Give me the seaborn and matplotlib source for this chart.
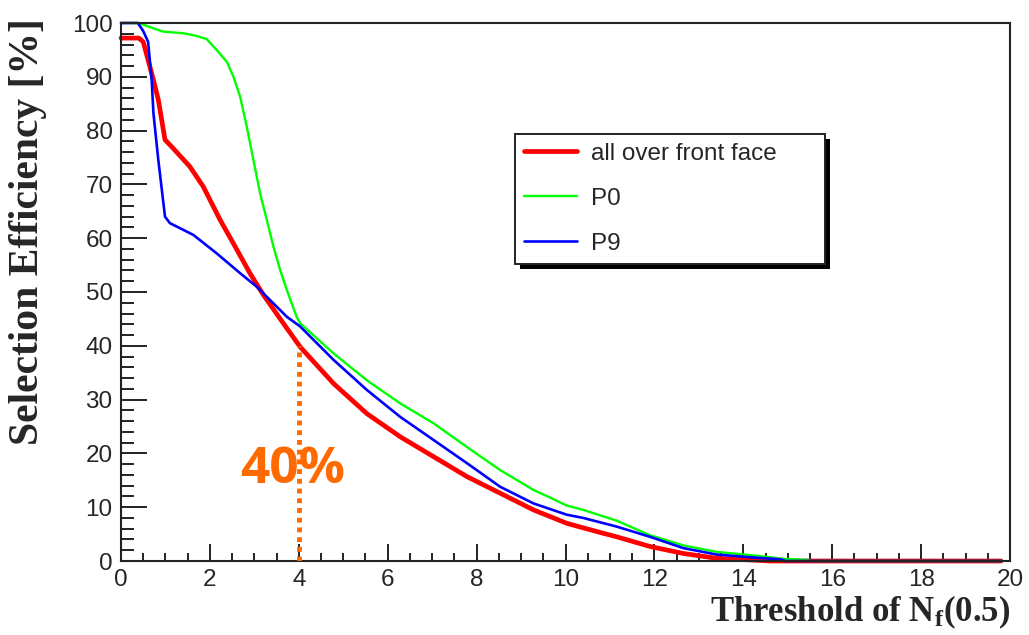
import matplotlib
matplotlib.use("Agg")
import matplotlib.pyplot as plt
import seaborn as sns
import numpy as np
import pandas as pd
from matplotlib.patches import Rectangle
from matplotlib.ticker import MultipleLocator

# ---------------- data ----------------
red_x = [0, 0.4, 0.5, 0.61, 0.73, 0.84, 0.99, 1.14, 1.55, 1.85, 2.23, 2.53, 2.9, 3.2,
         3.65, 4.03, 4.78, 5.53, 6.28, 7.03, 7.78, 8.53, 9.28, 10.03, 10.78, 11.15,
         11.9, 12.65, 13.4, 14.15, 14.6, 19.8]
red_y = [97.2, 97.2, 96.5, 93.1, 89.4, 85.7, 78.3, 77.0, 73.3, 69.6, 63.4, 59.0, 53.5, 49.5,
         44.2, 39.8, 33.0, 27.4, 23.1, 19.4, 15.7, 12.6, 9.5, 7.0, 5.3, 4.5,
         2.7, 1.4, 0.5, 0.2, 0.0, 0.0]

green_x = [0, 0.4, 0.73, 0.95, 1.4, 1.7, 1.93, 2.15, 2.38, 2.53, 2.68, 2.83, 2.98, 3.13,
           3.28, 3.43, 3.58, 3.73, 3.95, 4.03, 4.78, 5.53, 6.28, 7.03, 7.78, 8.53, 9.28,
           9.65, 10.03, 10.4, 11.15, 11.9, 12.65, 13.4, 14.15, 14.5, 14.9, 15.45, 15.5, 19.8]
green_y = [100, 100, 99.0, 98.4, 98.1, 97.6, 97.0, 95.0, 92.8, 90.0, 86.3, 80.7, 74.5, 68.3,
           63.4, 58.4, 54.1, 50.4, 45.4, 44.2, 38.6, 33.6, 29.3, 25.6, 21.2, 16.9, 13.2,
           11.8, 10.3, 9.5, 7.5, 4.8, 2.9, 1.7, 1.1, 0.8, 0.4, 0.2, 0.0, 0.0]

blue_x = [0, 0.38, 0.5, 0.61, 0.69, 0.73, 0.84, 0.99, 1.1, 1.63, 2.15, 2.68, 3.05, 3.73,
          4.03, 4.78, 5.53, 6.28, 7.03, 7.78, 8.53, 9.28, 10.03, 10.4, 11.15, 11.9, 12.65,
          13.4, 14.15, 14.85, 14.95, 19.8]
blue_y = [100, 100, 98.5, 96.5, 89.4, 83.2, 74.5, 64.0, 62.8, 60.6, 57.2, 53.5, 51.0, 45.4,
          43.6, 37.4, 31.8, 26.8, 22.5, 18.2, 13.8, 10.7, 8.6, 8.0, 6.4, 4.5, 2.4,
          1.2, 0.7, 0.3, 0.0, 0.0]

series_labels = ["all over front face", "P0", "P9"]
marker_x = 4.0
marker_y = 40.0
marker_text = "40%"

x_ticks = list(range(0, 21, 2))
y_ticks = list(range(0, 101, 10))

# ---------------- style ----------------
sns.set_style("ticks")
plt.rcParams["font.family"] = ["Liberation Sans", "DejaVu Sans"]
plt.rcParams["mathtext.fontset"] = "custom"
plt.rcParams["mathtext.rm"] = "Liberation Serif:bold"
plt.rcParams["mathtext.bf"] = "Liberation Serif:bold"
plt.rcParams["mathtext.it"] = "Liberation Serif:bold"

fig = plt.figure(figsize=(10.29, 6.35), dpi=100)
ax = fig.add_axes([121 / 1029, 1 - 561 / 635, 889 / 1029, 538 / 635])

sns.lineplot(x=red_x, y=red_y, ax=ax, color="#ff0000", linewidth=3.4,
             sort=False, estimator=None, label=series_labels[0], clip_on=False)
sns.lineplot(x=green_x, y=green_y, ax=ax, color="#00ff00", linewidth=1.7,
             sort=False, estimator=None, label=series_labels[1], clip_on=False)
sns.lineplot(x=blue_x, y=blue_y, ax=ax, color="#0000ff", linewidth=1.9,
             sort=False, estimator=None, label=series_labels[2], clip_on=False)

orange = "#ff6a00"
ax.plot([marker_x, marker_x], [0, marker_y], color=orange, linewidth=3.5,
        linestyle=(0, (1, 1)), dash_capstyle="butt", zorder=5)
ax.text(3.87, 17.0, marker_text, color=orange, fontsize=37, fontweight="bold",
        family=["Open Sans", "DejaVu Sans"], ha="center", va="center", zorder=6)

ax.set_xlim(0, 20)
ax.set_ylim(0, 100)
ax.set_xticks(x_ticks)
ax.set_yticks(y_ticks)
ax.xaxis.set_minor_locator(MultipleLocator(0.5))
ax.yaxis.set_minor_locator(MultipleLocator(2))
ax.tick_params(axis="y", which="major", direction="in", length=19, width=1.4,
               labelsize=17.5, pad=6, color="#222222")
ax.tick_params(axis="y", which="minor", direction="in", length=9, width=1.4, color="#222222")
ax.tick_params(axis="x", which="major", direction="in", length=12, width=1.4,
               labelsize=17.5, pad=6, color="#222222")
ax.tick_params(axis="x", which="minor", direction="in", length=6, width=1.4, color="#222222")
for s in ax.spines.values():
    s.set_linewidth(1.5)
    s.set_color("#222222")
ax.set_xlabel("")
ax.set_ylabel("")

fig.text(28 / 1029, 1 - 18 / 635, "Selection Efficiency [%]", rotation=90,
         ha="center", va="top", fontsize=30, fontweight="bold",
         family=["Liberation Serif", "DejaVu Serif"])
fig.text(1010 / 1029, 1 - 612 / 635, r"Threshold of N$_{\mathbf{f}}$(0.5)",
         ha="right", va="center", fontsize=25, fontweight="bold",
         family=["Liberation Serif", "DejaVu Serif"])

leg = ax.legend(loc="upper left", bbox_to_anchor=(0.443, 0.794, 0.349, 0.0),
                mode="expand", fancybox=False, frameon=True, fontsize=17.5,
                handlelength=2.2, handletextpad=0.55, borderpad=0.37,
                labelspacing=0.94, borderaxespad=0.0)
frame = leg.get_frame()
frame.set_edgecolor("#222222")
frame.set_linewidth(1.4)
frame.set_alpha(1)
leg.set_zorder(10)

fig.canvas.draw()
bb = leg.get_window_extent()
shadow = Rectangle((bb.x0 + 5, bb.y0 - 5), bb.width, bb.height, transform=None,
                   facecolor="black", edgecolor="none", zorder=9, clip_on=False)
ax.add_artist(shadow)

fig.savefig("out.png", dpi=100)
